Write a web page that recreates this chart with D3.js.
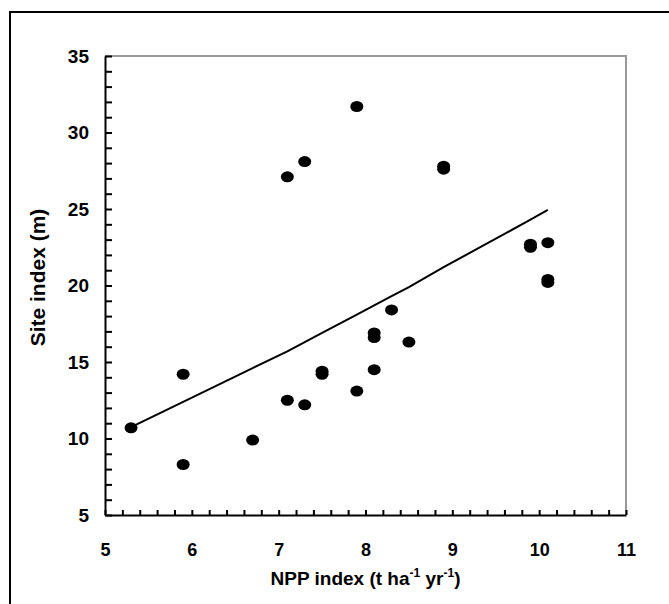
<!DOCTYPE html>
<html>
<head>
<meta charset="utf-8">
<script src="https://cdn.jsdelivr.net/npm/d3@7"></script>
<style>
  body { margin: 0; background: #fff; }
  svg text { font-family: "Liberation Sans", Arial, sans-serif; font-weight: bold; }
</style>
</head>
<body>
<div id="chart"></div>
<script>
// Observed site index vs NPP index
const nppIndex = [5.3, 5.9, 5.9, 6.7, 7.1, 7.1, 7.3, 7.3, 7.5, 7.5, 7.9, 7.9, 8.1, 8.1, 8.1, 8.3, 8.5, 8.9, 8.9, 9.9, 9.9, 10.1, 10.1, 10.1];
const siteIndex = [10.7, 14.2, 8.3, 9.9, 27.1, 12.5, 28.1, 12.2, 14.2, 14.4, 31.7, 13.1, 16.6, 16.9, 14.5, 18.4, 16.3, 27.6, 27.8, 22.5, 22.7, 22.8, 20.2, 20.4];

// Fitted line
const fitX = [5.3, 5.9, 6.7, 7.1, 7.3, 7.5, 7.9, 8.1, 8.3, 8.5, 8.9, 9.9, 10.1];
const fitY = [10.75, 12.4, 14.6, 15.7, 16.3, 16.9, 18.1, 18.7, 19.3, 19.9, 21.2, 24.3, 24.95];

const xMajor = [5, 6, 7, 8, 9, 10, 11];
const yMajor = [5, 10, 15, 20, 25, 30, 35];

const W = 669, H = 604;
const plot = { left: 105, right: 626, top: 56, bottom: 515 };

const svg = d3.select("#chart").append("svg")
  .attr("width", W)
  .attr("height", H);

// outer frame
svg.append("rect")
  .attr("x", 10).attr("y", 12)
  .attr("width", 700).attr("height", 700)
  .attr("fill", "none")
  .attr("stroke", "#000")
  .attr("stroke-width", 2);

const x = d3.scaleLinear().domain([5, 11]).range([plot.left, plot.right]);
const y = d3.scaleLinear().domain([5, 35]).range([plot.bottom, plot.top]);

// top / right border of plot area
svg.append("path")
  .attr("d", `M${plot.left},${plot.top}H${plot.right}V${plot.bottom}`)
  .attr("fill", "none")
  .attr("stroke", "#999")
  .attr("stroke-width", 2);

// Y axis
const yTicks = d3.range(5, 36, 1);
svg.append("g")
  .attr("transform", `translate(${plot.left},0)`)
  .call(d3.axisLeft(y)
    .tickValues(yTicks)
    .tickSizeInner(-7)
    .tickSizeOuter(0)
    .tickPadding(16)
    .tickFormat(d => yMajor.includes(d) ? d : ""))
  .call(g => g.select(".domain").attr("stroke-width", 2))
  .call(g => g.selectAll(".tick line").attr("stroke-width", 2))
  .call(g => g.selectAll("text").style("font-size", "19px").attr("fill", "#000"));

// X axis
const xTicks = d3.range(0, 31).map(i => +(5 + i * 0.2).toFixed(1));
svg.append("g")
  .attr("transform", `translate(0,${plot.bottom})`)
  .call(d3.axisBottom(x)
    .tickValues(xTicks)
    .tickSizeInner(-5)
    .tickSizeOuter(0)
    .tickPadding(28)
    .tickFormat(d => xMajor.includes(d) ? d : ""))
  .call(g => g.select(".domain").attr("stroke-width", 2))
  .call(g => g.selectAll(".tick line").attr("stroke-width", 2))
  .call(g => g.selectAll("text").style("font-size", "18px").attr("fill", "#000"));

// fitted line
const line = d3.line().x((d, i) => x(fitX[i])).y(d => y(d));
svg.append("path")
  .attr("d", line(fitY))
  .attr("fill", "none")
  .attr("stroke", "#000")
  .attr("stroke-width", 2);

// points
svg.append("g")
  .selectAll("ellipse")
  .data(nppIndex)
  .join("ellipse")
  .attr("cx", d => x(d))
  .attr("cy", (d, i) => y(siteIndex[i]))
  .attr("rx", 6.5)
  .attr("ry", 5.5)
  .attr("fill", "#000");

// axis titles
const xt = svg.append("text")
  .attr("x", (plot.left + plot.right) / 2)
  .attr("y", 585)
  .attr("text-anchor", "middle")
  .style("font-size", "19px");
xt.append("tspan").text("NPP index (t ha");
xt.append("tspan").attr("dy", -8).style("font-size", "12px").text("-1");
xt.append("tspan").attr("dy", 8).text(" yr");
xt.append("tspan").attr("dy", -8).style("font-size", "12px").text("-1");
xt.append("tspan").attr("dy", 8).text(")");

svg.append("text")
  .attr("transform", `translate(45,${(plot.top + plot.bottom) / 2 - 8}) rotate(-90)`)
  .attr("text-anchor", "middle")
  .style("font-size", "21px")
  .text("Site index (m)");
</script>
</body>
</html>
